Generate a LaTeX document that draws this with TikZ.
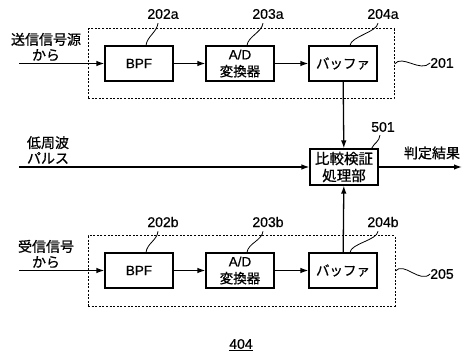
\documentclass[tikz,border=0pt]{standalone}
\usepackage{fontspec}
\setmainfont{Liberation Sans}[FakeBold=0.6]
\newfontfamily\jp{Noto Sans CJK JP}[FakeBold=0.8]
\usetikzlibrary{arrows.meta,calc}
\definecolor{ink}{HTML}{000000}

\tikzset{
  blk/.style={draw=ink, line width=1.1pt, minimum width=68pt, minimum height=35pt, inner sep=0pt, align=center, text=ink, font=\fontsize{13.5}{17}\selectfont},
  grp/.style={draw=ink, line width=1pt, dash pattern=on 2pt off 1.6pt, inner sep=0pt},
  sig/.style={-{Latex[length=8pt,width=5.5pt]}, line width=1.3pt, draw=ink},
  lead/.style={draw=ink, line width=0.8pt},
  num/.style={font=\fontsize{14}{15}\selectfont, inner sep=0pt, text=ink},
  lbl/.style={font=\jp\fontsize{14}{15.5}\selectfont, align=center, inner sep=0pt, text=ink},
}

\begin{document}
\begin{tikzpicture}[x=1pt,y=-1pt]
  \useasboundingbox (0,0) rectangle (463,363);

  % transmit side
  \node[grp, minimum width=306pt, minimum height=70pt] (g201) at (241,64) {};
  \node[blk] (bpfa) at (139,63.5) {BPF};
  \node[blk] (ada) at (240,63.5) {A/D\\{\jp 変換器}};
  \node[blk] (bufa) at (343,63.5) {\jp バッファ};
  \node[lbl] (srca) at (46,47) {送信信号源\\から};
  \coordinate (ina) at (19,63.5);
  \node[num] (n202a) at (163,14) {202a};
  \node[num] (n203a) at (268,14) {203a};
  \node[num] (n204a) at (383,14) {204a};
  \node[num] (n201) at (442,63) {201};

  % receive side
  \node[grp, minimum width=307pt, minimum height=70pt] (g205) at (241.5,271) {};
  \node[blk] (bpfb) at (139,270.5) {BPF};
  \node[blk] (adb) at (240,270.5) {A/D\\{\jp 変換器}};
  \node[blk] (bufb) at (343,270.5) {\jp バッファ};
  \node[lbl] (srcb) at (46,254) {受信信号\\から};
  \coordinate (inb) at (19,270.5);
  \node[num] (n202b) at (163,222) {202b};
  \node[num] (n203b) at (268,222) {203b};
  \node[num] (n204b) at (383,222) {204b};
  \node[num] (n205) at (442,274) {205};

  % compare
  \node[blk, minimum height=36pt, font=\jp\fontsize{14.5}{17}\selectfont] (cmp) at (344,167) {比較検証\\処理部};
  \node[num] (n501) at (383,127) {501};
  \node[lbl] (lfp) at (48,150) {低周波\\パルス};
  \coordinate (inl) at (19,167);
  \node[lbl] (res) at (432,153) {判定結果};
  \coordinate (outr) at (462,167);

  \draw[sig] (ina) -- (bpfa);
  \draw[sig] (bpfa) -- (ada);
  \draw[sig] (ada) -- (bufa);
  \draw[sig] (inb) -- (bpfb);
  \draw[sig] (bpfb) -- (adb);
  \draw[sig] (adb) -- (bufb);
  \draw[sig] (bufa) -- (cmp);
  \draw[sig] (bufb) -- (cmp);
  \draw[sig] (inl) -- (cmp);
  \draw[sig] (cmp) -- (outr);

  % leaders
  \foreach \n/\b in {n202a/bpfa,n203a/ada,n204a/bufa,n202b/bpfb,n203b/adb,n204b/bufb}{
    \draw[lead] ($(\n.south)+(-5,4)$) .. controls ($(\n.south)+(-6,13)$) and ($(\b.north)+(8,-9)$) .. ($(\b.north)+(7,0)$);
  }
  \draw[lead] ($(n501.south)+(-3,3)$) .. controls ($(n501.south)+(-4,10)$) and ($(cmp.north east)+(-4,-6)$) .. ($(cmp.north east)+(-7,0)$);
  \draw[lead] (g201.east) .. controls +(8,-10) and +(-10,10) .. (n201.west);
  \draw[lead] (g205.east) .. controls +(8,-10) and +(-10,10) .. (n205.west);

  \node[num] (n404) at (241,345) {\underline{404}};
\end{tikzpicture}
\end{document}
